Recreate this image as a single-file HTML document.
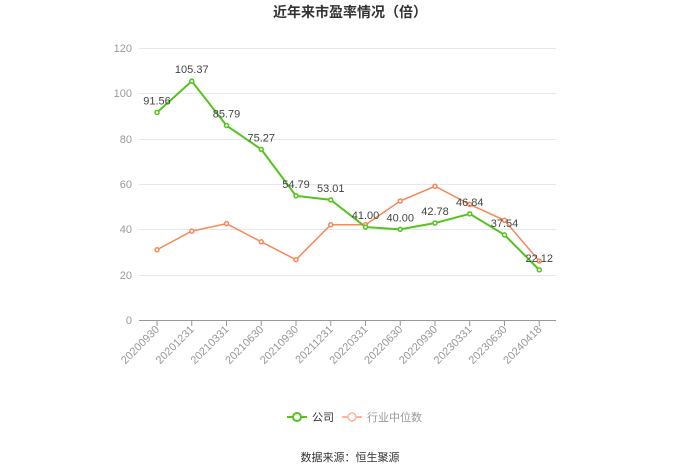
<!DOCTYPE html><html><head><meta charset="utf-8"><style>body{margin:0;background:#fff}svg{display:block;font-family:"Liberation Sans","Noto Sans CJK SC",sans-serif}</style></head><body>
<svg width="700" height="474" xmlns="http://www.w3.org/2000/svg">
<text x="350" y="17" text-anchor="middle" font-size="14" font-weight="bold" fill="#333">近年来市盈率情况（倍）</text>
<g stroke="#e6e8f0" stroke-width="1">
<line x1="139" x2="556" y1="48.5" y2="48.5"/><line x1="139" x2="556" y1="93.5" y2="93.5"/><line x1="139" x2="556" y1="139.5" y2="139.5"/><line x1="139" x2="556" y1="184.5" y2="184.5"/><line x1="139" x2="556" y1="229.5" y2="229.5"/><line x1="139" x2="556" y1="275.5" y2="275.5"/>
</g>
<line x1="139" x2="556" y1="320.5" y2="320.5" stroke="#999" stroke-width="1"/>
<g font-size="11" fill="#999" text-anchor="end">
<text x="132" y="52">120</text><text x="132" y="97">100</text><text x="132" y="143">80</text><text x="132" y="188">60</text><text x="132" y="233">40</text><text x="132" y="279">20</text><text x="132" y="324">0</text>
</g>
<g id="t" stroke="#999"></g>
<g font-size="11" fill="#999" text-anchor="end" id="xl"></g>
<polyline id="ind" fill="none" stroke="#f7885a" stroke-width="1.5"/>
<polyline id="co" fill="none" stroke="#52c41a" stroke-width="2"/>
<g id="pts"></g>
<g id="lbl" font-size="11" fill="#444" text-anchor="middle"></g>
<g transform="translate(287,417)">
<line x1="0" x2="20" y1="0" y2="0" stroke="#52c41a" stroke-width="2"/><circle cx="10" cy="0" r="4" fill="#fff" stroke="#52c41a" stroke-width="2"/>
<text x="25" y="4" font-size="11" fill="#333">公司</text>
<line x1="55" x2="75" y1="0" y2="0" stroke="#fbb89c" stroke-width="2"/><circle cx="65" cy="0" r="4" fill="#fff" stroke="#fbb89c" stroke-width="1.5"/>
<text x="80" y="4" font-size="11" fill="#999">行业中位数</text>
</g>
<text x="350" y="461" text-anchor="middle" font-size="11" fill="#333">数据来源：恒生聚源</text>
<script>
var ns="http://www.w3.org/2000/svg";
var d=["20200930","20201231","20210331","20210630","20210930","20211231","20220331","20220630","20220930","20230331","20230630","20240418"];
var c=[91.56,105.37,85.79,75.27,54.79,53.01,41.00,40.00,42.78,46.84,37.54,22.12];
var n=[31,39.2,42.5,34.5,26.6,42,42,52.5,59,51,44,26];
function X(i){return 157+i*34.75}function Y(v){return 320-v*2.2667}
function el(t,a,p){var e=document.createElementNS(ns,t);for(var k in a)e.setAttribute(k,a[k]);document.getElementById(p).appendChild(e);return e}
var pc=[],pn=[];
for(var i=0;i<12;i++){
el("line",{x1:X(i),x2:X(i),y1:321,y2:326},"t");
var t=el("text",{x:0,y:0,transform:"translate("+(X(i)+3)+",330) rotate(-45)"},"xl");t.textContent=d[i];
pc.push(X(i)+","+Y(c[i]));pn.push(X(i)+","+Y(n[i]));}
document.getElementById("co").setAttribute("points",pc.join(" "));
document.getElementById("ind").setAttribute("points",pn.join(" "));
for(var i=0;i<12;i++){
el("circle",{cx:X(i),cy:Y(n[i]),r:2,fill:"#fff",stroke:"#f7885a","stroke-width":1.5},"pts");
el("circle",{cx:X(i),cy:Y(c[i]),r:2,fill:"#fff",stroke:"#52c41a","stroke-width":1.5},"pts");
var t=el("text",{x:X(i),y:Y(c[i])-8},"lbl");t.textContent=c[i].toFixed(2);}
</script>
</svg></body></html>
